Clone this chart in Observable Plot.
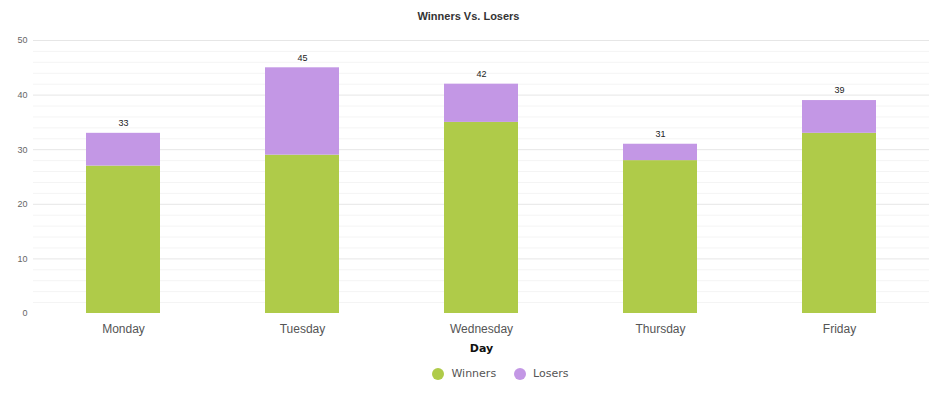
<!DOCTYPE html>
<html>
<head>
<meta charset="utf-8">
<script src="https://cdn.jsdelivr.net/npm/d3@7"></script>
<script src="https://cdn.jsdelivr.net/npm/@observablehq/plot@0.6"></script>
<style>
  body { margin: 0; background: #fff; }
  #wrap { position: relative; width: 937px; height: 398px; }
  #title { position: absolute; top: 10px; left: 0; width: 937px; text-align: center;
           font: bold 11px "Liberation Sans", Arial, sans-serif; color: #333; }
  #chart { position: absolute; top: 35px; left: 0; }
  #legend { position: absolute; top: 367px; left: 32px; width: 937px; display: flex; justify-content: center; gap: 18px;
            font: 11px "DejaVu Sans", Verdana, sans-serif; color: #555; }
  .item { display: flex; align-items: center; gap: 7px; }
  .sw { width: 12px; height: 12px; border-radius: 50%; display: inline-block; }
</style>
</head>
<body>
<div id="wrap">
  <div id="title">Winners Vs. Losers</div>
  <div id="chart"></div>
  <div id="legend"></div>
</div>
<script>
const days = ["Monday", "Tuesday", "Wednesday", "Thursday", "Friday"];
const winners = [27, 29, 35, 28, 33];
const losers = [6, 16, 7, 3, 6];
const seriesNames = ["Winners", "Losers"];
const seriesColors = ["#afcb49", "#c397e5"];
const yTicks = [0, 10, 20, 30, 40, 50];
const minorTicks = d3.range(0, 51, 2);

const rows = [];
days.forEach((d, i) => {
  rows.push({day: d, series: "Winners", value: winners[i]});
  rows.push({day: d, series: "Losers", value: losers[i]});
});
const totals = days.map((d, i) => ({day: d, total: winners[i] + losers[i]}));

const plot = Plot.plot({
  width: 937,
  height: 325,
  marginTop: 5,
  marginBottom: 47,
  marginLeft: 33,
  marginRight: 8,
  style: {fontFamily: "'Liberation Sans', Arial, sans-serif", background: "#fff"},
  x: {domain: days, paddingInner: 0.587, paddingOuter: 0.2935, label: null},
  y: {domain: [0, 50], label: null},
  color: {domain: seriesNames, range: seriesColors},
  marks: [
    Plot.ruleY(minorTicks.filter(t => t % 10 !== 0), {stroke: "#f4f4f4", strokeWidth: 1}),
    Plot.ruleY(yTicks.filter(t => t > 0), {stroke: "#e6e6e6", strokeWidth: 1}),
    Plot.barY(rows, {x: "day", y: "value", fill: "series", order: seriesNames}),
    Plot.text(totals, {x: "day", y: "total", text: d => String(d.total), dy: -10, fontSize: 9, fill: "#222"}),
    Plot.axisY({ticks: yTicks, tickSize: 0, tickPadding: 6, fontSize: 9, color: "#666", label: null}),
    Plot.axisX({tickSize: 0, tickPadding: 11, fontSize: 12, color: "#555", label: null}),
    Plot.text(["Day"], {frameAnchor: "bottom", dy: 38, fontSize: 11, fontWeight: "bold", fontFamily: "'DejaVu Sans', Verdana, sans-serif", fill: "#111"})
  ]
});
document.getElementById("chart").appendChild(plot);

const legend = document.getElementById("legend");
seriesNames.forEach((s, i) => {
  const it = document.createElement("div");
  it.className = "item";
  it.innerHTML = `<span class="sw" style="background:${seriesColors[i]}"></span><span>${s}</span>`;
  legend.appendChild(it);
});
</script>
</body>
</html>
